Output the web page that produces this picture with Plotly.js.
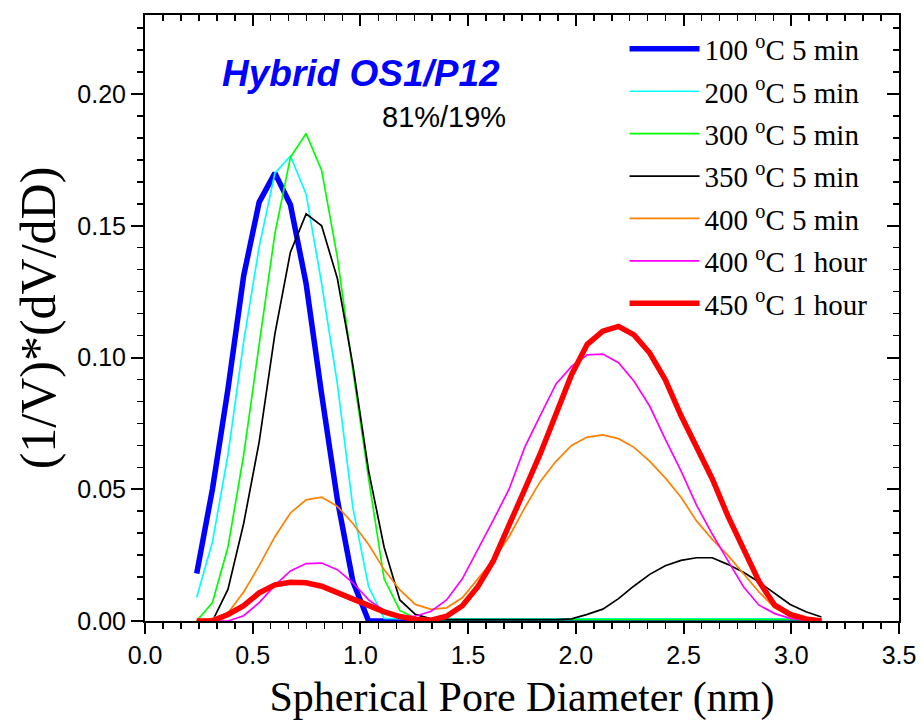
<!DOCTYPE html>
<html>
<head>
<meta charset="utf-8">
<script src="https://cdn.plot.ly/plotly-3.0.1.min.js"></script>
<style>html,body{margin:0;padding:0;background:#fff;}#chart{width:921px;height:721px;}</style>
</head>
<body>
<div id="chart"></div>
<script>
// Pore diameter (nm)
const diameter = [0.240, 0.313, 0.385, 0.458, 0.530, 0.603, 0.675, 0.748, 0.820, 0.893, 0.965, 1.038, 1.110, 1.183, 1.255, 1.328, 1.400, 1.473, 1.545, 1.618, 1.690, 1.763, 1.835, 1.908, 1.980, 2.053, 2.125, 2.198, 2.270, 2.343, 2.415, 2.488, 2.560, 2.633, 2.705, 2.778, 2.850, 2.923, 2.995, 3.068, 3.140];

const seriesNames = ["100 <sup>o</sup>C 5 min", "200 <sup>o</sup>C 5 min", "300 <sup>o</sup>C 5 min", "350 <sup>o</sup>C 5 min", "400 <sup>o</sup>C 5 min", "400 <sup>o</sup>C 1 hour", "450 <sup>o</sup>C 1 hour"];

const t100_5min = [0.018, 0.050, 0.088, 0.131, 0.159, 0.170, 0.158, 0.128, 0.086, 0.046, 0.015, 0.000, 0.000, 0.000, 0.000, 0.000, 0.000, 0.000, 0.000, 0.000, 0.000, 0.000, 0.000, 0.000, 0.000, 0.000, 0.000, 0.000, 0.000, 0.000, 0.000, 0.000, 0.000, 0.000, 0.000, 0.000, 0.000, 0.000, 0.000, 0.000, 0.000];
const t200_5min = [0.009, 0.030, 0.063, 0.106, 0.142, 0.170, 0.1765, 0.162, 0.128, 0.090, 0.043, 0.013, 0.001, 0.0008, 0.0008, 0.0008, 0.0008, 0.0008, 0.0008, 0.0008, 0.0008, 0.0008, 0.0008, 0.0008, 0.0008, 0.0008, 0.0008, 0.0008, 0.0008, 0.0008, 0.0008, 0.0008, 0.0008, 0.0008, 0.0008, 0.0008, 0.0008, 0.0008, 0.0008, 0.0008, 0.0008];
const t300_5min = [0.000, 0.007, 0.028, 0.063, 0.105, 0.147, 0.176, 0.185, 0.171, 0.138, 0.095, 0.054, 0.016, 0.004, 0.001, 0.0005, 0.0005, 0.0005, 0.0005, 0.0005, 0.0005, 0.0005, 0.0005, 0.0005, 0.0005, 0.0005, 0.0005, 0.0005, 0.0005, 0.0005, 0.0005, 0.0005, 0.0005, 0.0005, 0.0005, 0.0005, 0.0005, 0.0005, 0.0005, 0.0005, 0.0005];
const t350_5min = [null, 0.000, 0.012, 0.037, 0.068, 0.109, 0.140, 0.1545, 0.150, 0.130, 0.097, 0.057, 0.028, 0.008, 0.0025, 0.0008, 0.0005, 0.0005, 0.0005, 0.0005, 0.0005, 0.0005, 0.0005, 0.0005, 0.0008, 0.0025, 0.0045, 0.0085, 0.0133, 0.0177, 0.021, 0.023, 0.024, 0.024, 0.0215, 0.0185, 0.0148, 0.0105, 0.0063, 0.0035, 0.0015];
const t400_5min = [0.000, 0.001, 0.003, 0.011, 0.021, 0.032, 0.041, 0.046, 0.047, 0.0435, 0.037, 0.029, 0.0195, 0.0118, 0.0063, 0.0044, 0.005, 0.0088, 0.016, 0.0233, 0.032, 0.043, 0.053, 0.0606, 0.0666, 0.0698, 0.0706, 0.0692, 0.0659, 0.0606, 0.0543, 0.047, 0.038, 0.031, 0.025, 0.018, 0.011, 0.005, 0.0017, 0.0005, 0.000];
const t400_1h = [0.000, 0.000, 0.000, 0.002, 0.007, 0.0135, 0.019, 0.0218, 0.022, 0.0195, 0.0145, 0.008, 0.004, 0.0018, 0.0018, 0.0037, 0.008, 0.016, 0.027, 0.0385, 0.050, 0.066, 0.078, 0.090, 0.0966, 0.101, 0.1013, 0.098, 0.091, 0.0815, 0.069, 0.057, 0.044, 0.033, 0.023, 0.013, 0.006, 0.0028, 0.001, 0.0003, 0.000];
const t450_1h = [0.000, 0.000, 0.0025, 0.0058, 0.0107, 0.0137, 0.0147, 0.0145, 0.0132, 0.0107, 0.0082, 0.0056, 0.0035, 0.0017, 0.0006, 0.0003, 0.0018, 0.0058, 0.013, 0.023, 0.036, 0.050, 0.0635, 0.079, 0.0935, 0.105, 0.110, 0.1118, 0.1086, 0.1017, 0.0916, 0.078, 0.066, 0.054, 0.040, 0.027, 0.015, 0.006, 0.0025, 0.0008, 0.000];

const seriesValues = [t100_5min, t200_5min, t300_5min, t350_5min, t400_5min, t400_1h, t450_1h];
const seriesColors = ["#0000FF", "#00FFFF", "#00FF00", "#000000", "#FF8000", "#FF00FF", "#FF0000"];
const seriesWidths = [5.5, 1.7, 1.7, 1.7, 1.7, 1.7, 5.5];

const traces = seriesValues.map((vals, i) => ({
  type: "scatter", mode: "lines",
  x: diameter, y: vals,
  name: seriesNames[i],
  legendgroup: "g" + i,
  line: {color: seriesColors[i], width: seriesWidths[i]},
  connectgaps: false,
  hoverinfo: "skip"
}));
// helper trace to activate mirror axes
traces.push({type: "scatter", mode: "lines", x: [null], y: [null], xaxis: "x2", yaxis: "y2", showlegend: false, hoverinfo: "skip"});

const tickFont = {family: "Liberation Sans, Arial, sans-serif", size: 25, color: "#000"};
const serif = "Liberation Serif, Times New Roman, serif";

const layout = {
  width: 921, height: 721,
  margin: {l: 145, r: 22, t: 15, b: 100, pad: 0},
  paper_bgcolor: "#fff", plot_bgcolor: "#fff",
  showlegend: true,
  legend: {
    x: 0.636, y: 0.986, xanchor: "left", yanchor: "top",
    font: {family: serif, size: 29, color: "#000"},
    bgcolor: "rgba(0,0,0,0)", borderwidth: 0,
    itemwidth: 70, tracegroupgap: 1.7
  },
  xaxis: {
    range: [0, 3.5], dtick: 0.5, tick0: 0, tickformat: ".1f",
    showgrid: false, zeroline: false,
    showline: true, linecolor: "#000", linewidth: 2, mirror: true,
    ticks: "outside", ticklen: 11, tickwidth: 2, tickcolor: "#000",
    minor: {dtick: 0.5/6, ticks: "outside", ticklen: 6, tickwidth: 1.5, tickcolor: "#000", showgrid: false},
    tickfont: tickFont,
    title: {text: "Spherical Pore Diameter (nm)", font: {family: serif, size: 42, color: "#000"}, standoff: 14},
    automargin: false
  },
  yaxis: {
    range: [0, 0.23], dtick: 0.05, tick0: 0, tickformat: ".2f",
    showgrid: false, zeroline: false,
    showline: true, linecolor: "#000", linewidth: 2, mirror: true,
    ticks: "outside", ticklen: 12, tickwidth: 2, tickcolor: "#000",
    minor: {dtick: 0.05/6, ticks: "outside", ticklen: 6, tickwidth: 1.5, tickcolor: "#000", showgrid: false},
    tickfont: tickFont,
    title: {text: "(1/V)*(dV/dD)", font: {family: serif, size: 50, color: "#000"}, standoff: 6},
    automargin: false
  },
  xaxis2: {
    overlaying: "x", anchor: "y", side: "top", range: [0, 3.5], dtick: 0.5, tick0: 0,
    showgrid: false, zeroline: false, showline: false, showticklabels: false,
    ticks: "inside", ticklen: 11, tickwidth: 2, tickcolor: "#000",
    minor: {dtick: 0.5/6, ticks: "inside", ticklen: 6, tickwidth: 1.5, tickcolor: "#000", showgrid: false}
  },
  yaxis2: {
    overlaying: "y", anchor: "x", side: "right", range: [0, 0.23], dtick: 0.05, tick0: 0,
    showgrid: false, zeroline: false, showline: false, showticklabels: false,
    ticks: "inside", ticklen: 12, tickwidth: 2, tickcolor: "#000",
    minor: {dtick: 0.05/6, ticks: "inside", ticklen: 6, tickwidth: 1.5, tickcolor: "#000", showgrid: false}
  },
  annotations: [
    {xref: "paper", yref: "paper", x: 0.2865, y: 0.9040, xanchor: "center", yanchor: "middle", showarrow: false,
     text: "<b><i>Hybrid OS1/P12</i></b>", font: {family: "Liberation Sans, Arial, sans-serif", size: 37, color: "#0000FF"}},
    {xref: "paper", yref: "paper", x: 0.397, y: 0.832, xanchor: "center", yanchor: "middle", showarrow: false,
     text: "81%/19%", font: {family: "Liberation Sans, Arial, sans-serif", size: 29, color: "#000"}}
  ]
};

Plotly.newPlot("chart", traces, layout, {displayModeBar: false, staticPlot: true});
</script>
</body>
</html>
